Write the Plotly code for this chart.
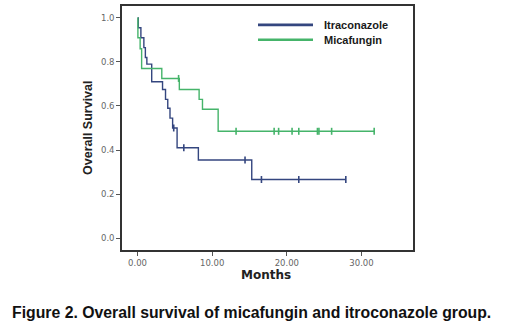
import numpy as np
import plotly.graph_objects as go

# ---- data ----
itra_time = [0, 0.1, 0.45, 0.85, 1.05, 1.25, 1.9, 3.35, 3.75, 4.05, 4.35, 4.7, 5.3, 8.15, 15.3, 27.9]
itra_surv = [1.0, 0.955, 0.91, 0.865, 0.82, 0.79, 0.71, 0.675, 0.63, 0.59, 0.545, 0.50, 0.41, 0.355, 0.266, 0.266]
itra_censor = [4.85, 6.2, 14.4, 16.6, 21.6, 27.9]

mica_time = [0, 0.05, 0.35, 0.55, 3.25, 5.6, 8.25, 8.7, 10.8, 31.7]
mica_surv = [1.0, 0.91, 0.86, 0.77, 0.725, 0.675, 0.63, 0.585, 0.485, 0.485]
mica_censor = [5.5, 13.2, 18.3, 18.9, 20.7, 21.6, 24.1, 24.3, 26.0, 31.7]

x_ticks = [0, 10, 20, 30]
y_ticks = [0.0, 0.2, 0.4, 0.6, 0.8, 1.0]

BLUE = "#34467F"
GREEN = "#45B46A"


def step_value(times, surv, t):
    idx = np.searchsorted(np.array(times), t, side="right") - 1
    return surv[max(idx, 0)]


fig = go.Figure()
for name, tt, ss, cc, col in [
    ("Itraconazole", itra_time, itra_surv, itra_censor, BLUE),
    ("Micafungin", mica_time, mica_surv, mica_censor, GREEN),
]:
    fig.add_trace(go.Scatter(x=tt, y=ss, mode="lines", line=dict(color=col, width=1.4, shape="hv"),
                             name=name, showlegend=False, hoverinfo="skip"))
    fig.add_trace(go.Scatter(x=cc, y=[step_value(tt, ss, c) for c in cc], mode="markers",
                             marker=dict(symbol="line-ns-open", size=5, color=col, line=dict(color=col, width=1.6)),
                             showlegend=False, hoverinfo="skip"))


def px_x(px):
    return (px - 122) / 291.0


def px_y(py):
    return (250 - py) / 246.0


for label, col, py in [("Itraconazole", BLUE, 23), ("Micafungin", GREEN, 38)]:
    fig.add_shape(type="line", xref="paper", yref="paper", x0=px_x(258), x1=px_x(313), y0=px_y(py), y1=px_y(py),
                  line=dict(color=col, width=2.6))
    fig.add_annotation(xref="paper", yref="paper", x=px_x(322), y=px_y(py), text=label, showarrow=False,
                       xanchor="left", yanchor="middle",
                       font=dict(family="Liberation Sans, Arial", size=11, color="#1a1a1a", weight="bold"))

fig.add_annotation(xref="paper", yref="paper", x=px_x(88), y=px_y(127), text="Overall Survival", textangle=-90,
                   showarrow=False, xanchor="center", yanchor="middle",
                   font=dict(family="Liberation Sans, Arial", size=12.5, color="#222222", weight="bold"))
fig.add_annotation(xref="paper", yref="paper", x=px_x(266), y=px_y(275), text="Months",
                   showarrow=False, xanchor="center", yanchor="middle",
                   font=dict(family="DejaVu Sans", size=12, color="#222222", weight="bold"))
fig.add_annotation(xref="paper", yref="paper", x=px_x(251), y=px_y(313),
                   text="Figure 2. Overall survival of micafungin and itroconazole group.",
                   showarrow=False, xanchor="center", yanchor="middle",
                   font=dict(family="Liberation Sans, Arial", size=15.8, color="#111111", weight="bold"))

axis_common = dict(showline=True, linecolor="#333333", linewidth=1.6, mirror=True, showgrid=False,
                   zeroline=False, ticks="outside", ticklen=4, tickwidth=1, tickcolor="#555555",
                   tickfont=dict(family="DejaVu Sans", size=8.5, color="#666666"))
fig.update_xaxes(range=[-2.08, 36.9], tickvals=x_ticks, tickformat=".2f", **axis_common)
fig.update_yaxes(range=[-0.054, 1.054], tickvals=y_ticks, tickformat=".1f", **axis_common)

fig.update_layout(width=520, height=331, margin=dict(l=122, r=107, t=4, b=81),
                  paper_bgcolor="white", plot_bgcolor="white", showlegend=False)

fig.write_html("out.html", config={"displayModeBar": False},
               post_script="document.body.style.margin='0';document.body.style.overflow='hidden';")
